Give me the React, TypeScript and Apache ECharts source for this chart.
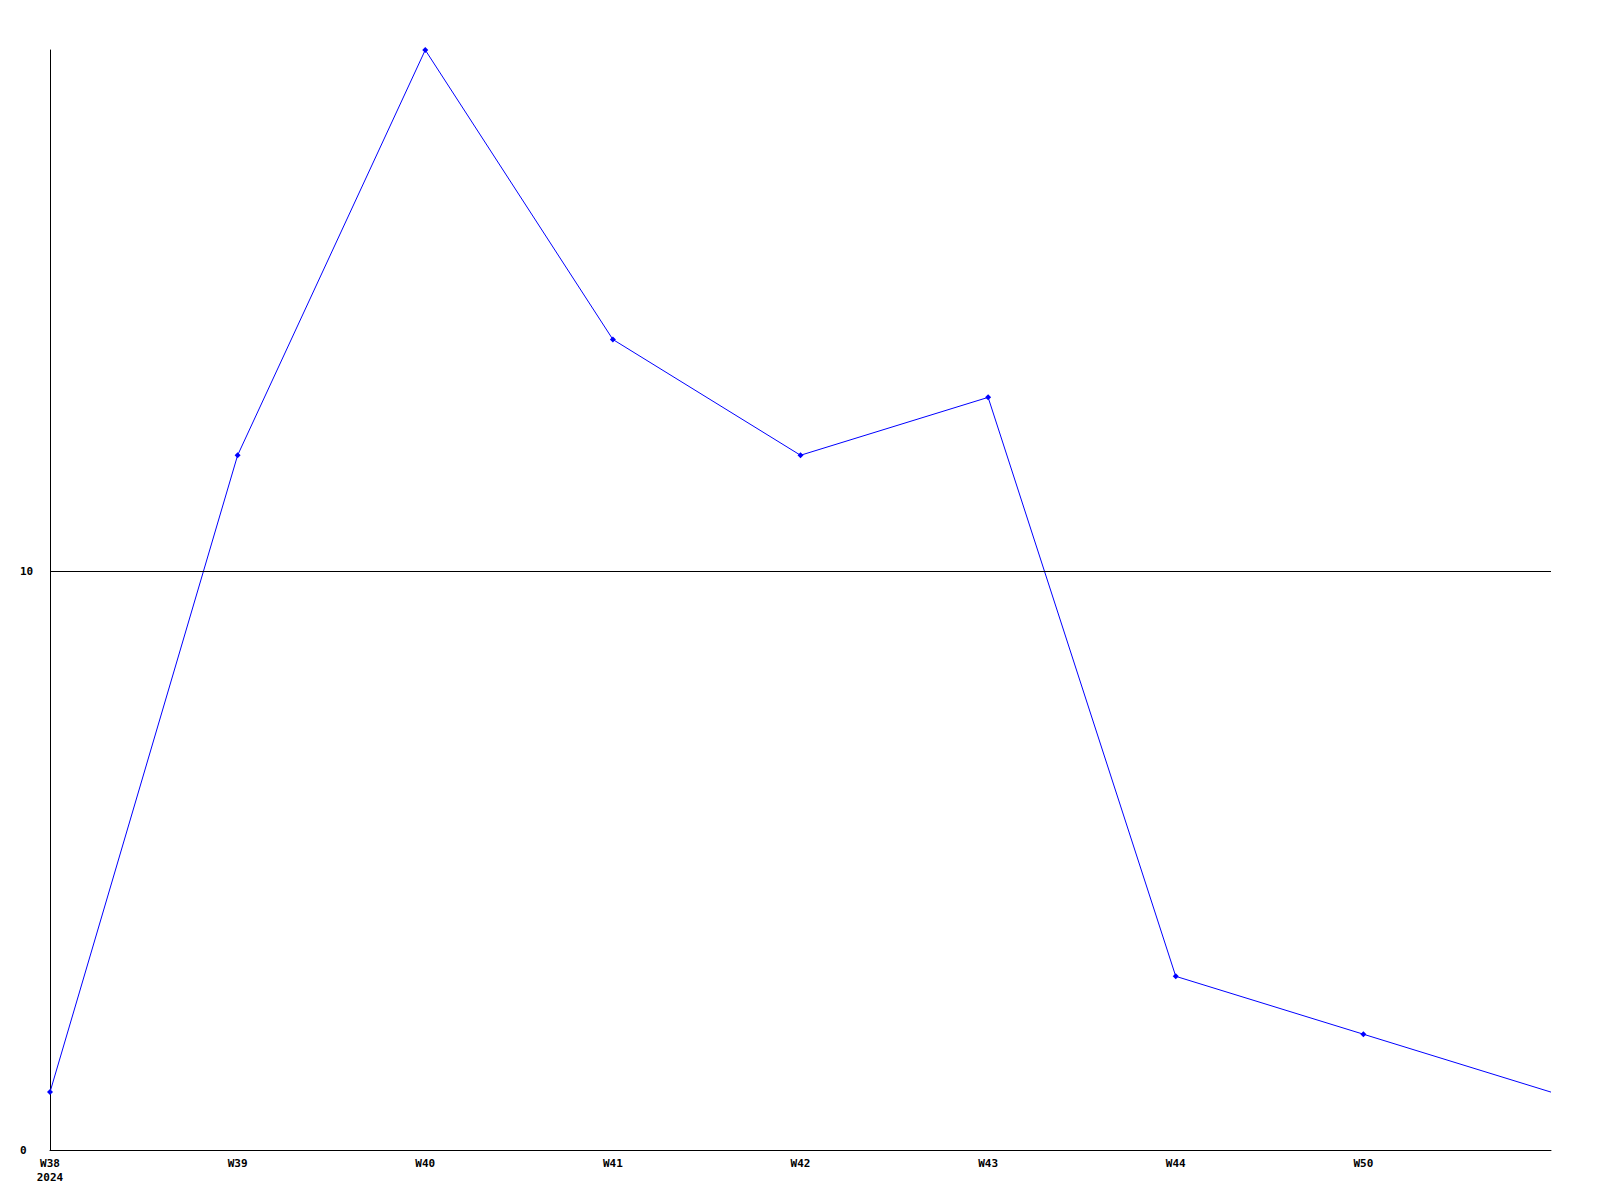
import React, { useEffect, useRef } from "react";
import * as echarts from "echarts";

const categories = ["W38\n2024", "W39", "W40", "W41", "W42", "W43", "W44", "W50", ""];
const values = [1, 12, 19, 14, 12, 13, 3, 2, 1];
const markedPoints = [true, true, true, true, true, true, true, true, false];
const yMax = 19;
const yRefLine = 10;

export default function App() {
  const ref = useRef<HTMLDivElement>(null);
  useEffect(() => {
    if (!ref.current) return;
    const chart = echarts.init(ref.current, undefined, { renderer: "svg" });
    const font = "DejaVu Sans Mono";
    chart.setOption({
      animation: false,
      backgroundColor: "#ffffff",
      grid: { left: 50, right: 49, top: 50, bottom: 50, containLabel: false },
      xAxis: {
        type: "category",
        data: categories,
        boundaryGap: false,
        axisLine: { show: true, lineStyle: { color: "#000", width: 1 } },
        axisTick: { show: false },
        axisLabel: {
          interval: 0,
          margin: 6,
          color: "#000",
          fontFamily: font,
          fontWeight: "bold",
          fontSize: 11,
          lineHeight: 14,
        },
        splitLine: { show: false },
      },
      yAxis: {
        type: "value",
        min: 0,
        max: yMax,
        interval: 10,
        axisLine: { show: true, lineStyle: { color: "#000", width: 1 } },
        axisTick: { show: false },
        splitLine: { show: false },
        axisLabel: {
          showMaxLabel: false,
          align: "left",
          margin: 30,
          color: "#000",
          fontFamily: font,
          fontWeight: "bold",
          fontSize: 11,
        },
      },
      series: [
        {
          type: "line",
          data: values.map((v, i) => ({
            value: v,
            symbol: markedPoints[i] ? "diamond" : "none",
          })),
          symbolSize: 6,
          showSymbol: true,
          lineStyle: { color: "#0000ff", width: 1 },
          itemStyle: { color: "#0000ff" },
          markLine: {
            silent: true,
            symbol: "none",
            label: { show: false },
            lineStyle: { color: "#000", width: 1, type: "solid" },
            data: [{ yAxis: yRefLine }],
          },
          z: 3,
        },
      ],
    });
    return () => chart.dispose();
  }, []);
  return (
    <div
      ref={ref}
      style={{ position: "fixed", left: 0, top: 0, width: 1600, height: 1200 }}
    />
  );
}
